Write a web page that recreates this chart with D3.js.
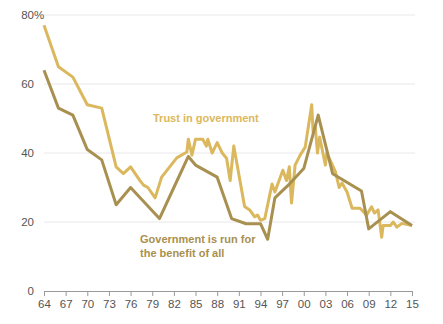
<!DOCTYPE html>
<html>
<head>
<meta charset="utf-8">
<script src="https://cdn.jsdelivr.net/npm/d3@7"></script>
<style>
  body { margin: 0; background: #fff; }
  svg { display: block; font-family: "Liberation Sans", Arial, sans-serif; }
</style>
</head>
<body>
<svg width="443" height="324"></svg>
<script>
// Data
const trustYears = [1964, 1966, 1968, 1970, 1972, 1974, 1975, 1976, 1977.3, 1977.8, 1978.4, 1979.4, 1980.3, 1982.4, 1983.8, 1984, 1984.5, 1985, 1986, 1986.5, 1986.7, 1987.3, 1988, 1988.7, 1989.3, 1989.8, 1990.3, 1991.8, 1992.5, 1993.2, 1993.6, 1994, 1994.6, 1995.2, 1995.6, 1996, 1997.1, 1997.6, 1998, 1998.3, 1998.8, 1999.5, 2000.2, 2000.5, 2001.1, 2001.3, 2001.6, 2001.9, 2002.2, 2003, 2003.2, 2004.4, 2004.9, 2005.3, 2006, 2006.7, 2007.8, 2008.7, 2009.4, 2009.8, 2010.3, 2010.8, 2011, 2012, 2012.4, 2012.9, 2013.6, 2015]
const trustValues = [77, 65, 62, 54, 53, 36, 34, 36, 32, 30.7, 30, 27, 33, 38.6, 40.3, 44, 39.4, 44, 44, 42, 44, 40, 43, 40, 38.5, 32, 42, 24.5, 23.5, 21.5, 22, 20.5, 21, 27, 31, 28.7, 35, 32, 36, 25.5, 36.5, 39.4, 41.7, 45.8, 54, 46, 47.5, 40, 44.6, 36.5, 40, 34.5, 30, 31.3, 28.7, 24, 24, 22, 24.4, 22.6, 23.5, 15.6, 19, 19, 20, 18.5, 19.6, 19]

const benefitYears = [1964, 1966, 1968, 1970, 1972, 1974, 1976, 1978, 1980, 1982, 1984, 1985, 1988, 1990, 1992, 1994, 1995, 1996, 1998, 2000, 2002, 2004, 2008, 2009, 2012, 2015]
const benefitValues = [64, 53, 51, 41, 38, 25, 30, 25.5, 21, 30, 39, 36.5, 33, 21, 19.5, 19.5, 15, 27, 31, 35.5, 51, 34, 29, 18, 23, 19]

const xTicks = [1964, 1967, 1970, 1973, 1976, 1979, 1982, 1985, 1988, 1991, 1994, 1997, 2000, 2003, 2006, 2009, 2012, 2015]
const yTicks = [0, 20, 40, 60, 80]

const trustColor = '#dbb85e'
const benefitColor = '#a89050'

const svg = d3.select('svg')

const x = d3.scaleLinear().domain([1964, 2015]).range([44, 412])
const y = d3.scaleLinear().domain([0, 80]).range([291, 15])

// gridlines
svg.append('g')
  .selectAll('line')
  .data(yTicks.filter(d => d > 0))
  .enter().append('line')
    .attr('x1', 44)
    .attr('x2', 415)
    .attr('y1', d => y(d))
    .attr('y2', d => y(d))
    .attr('stroke', '#e8e8e8')
    .attr('stroke-width', 1)

// y axis labels
const yAxis = svg.append('g')
  .attr('transform', 'translate(34,0)')
  .call(d3.axisLeft(y).tickValues(yTicks).tickSize(0).tickPadding(0))
yAxis.select('.domain').remove()
yAxis.selectAll('text')
  .attr('fill', '#555')
  .attr('font-size', 11.5)
  .attr('font-family', '"Liberation Sans", Arial, sans-serif')
// the percent sign hangs after the top label
svg.append('text')
  .attr('x', 34)
  .attr('y', y(80))
  .attr('dy', '0.32em')
  .attr('fill', '#555')
  .attr('font-size', 11.5)
  .text('%')

// x axis
const xAxis = svg.append('g')
  .attr('transform', `translate(0,${y(0)})`)
  .call(d3.axisBottom(x).tickValues(xTicks).tickSize(5).tickPadding(4)
    .tickFormat(d => String(d % 100).padStart(2, '0')))
xAxis.select('.domain').attr('stroke', '#999').attr('d', `M${x(1964)},0.5H${x(2015)}`)
xAxis.selectAll('.tick line').attr('stroke', '#999')
xAxis.selectAll('text')
  .attr('fill', '#555')
  .attr('font-size', 11.5)
  .attr('font-family', '"Liberation Sans", Arial, sans-serif')

const line = d3.line()
  .x(d => x(d[0]))
  .y(d => y(d[1]))

svg.append('path')
  .datum(trustYears.map((yr, i) => [yr, trustValues[i]]))
  .attr('d', line)
  .attr('fill', 'none')
  .attr('stroke', trustColor)
  .attr('stroke-width', 3)
  .attr('stroke-linejoin', 'round')

svg.append('path')
  .datum(benefitYears.map((yr, i) => [yr, benefitValues[i]]))
  .attr('d', line)
  .attr('fill', 'none')
  .attr('stroke', benefitColor)
  .attr('stroke-width', 3)
  .attr('stroke-linejoin', 'round')

// labels
svg.append('text')
  .attr('x', 153)
  .attr('y', 122)
  .attr('fill', trustColor)
  .attr('font-size', 11)
  .attr('font-weight', 'bold')
  .text('Trust in government')

const lbl = svg.append('text')
  .attr('x', 140)
  .attr('y', 243)
  .attr('fill', benefitColor)
  .attr('font-size', 11)
  .attr('font-weight', 'bold')
lbl.append('tspan').attr('x', 140).text('Government is run for')
lbl.append('tspan').attr('x', 140).attr('dy', 14).text('the benefit of all')
</script>
</body>
</html>
